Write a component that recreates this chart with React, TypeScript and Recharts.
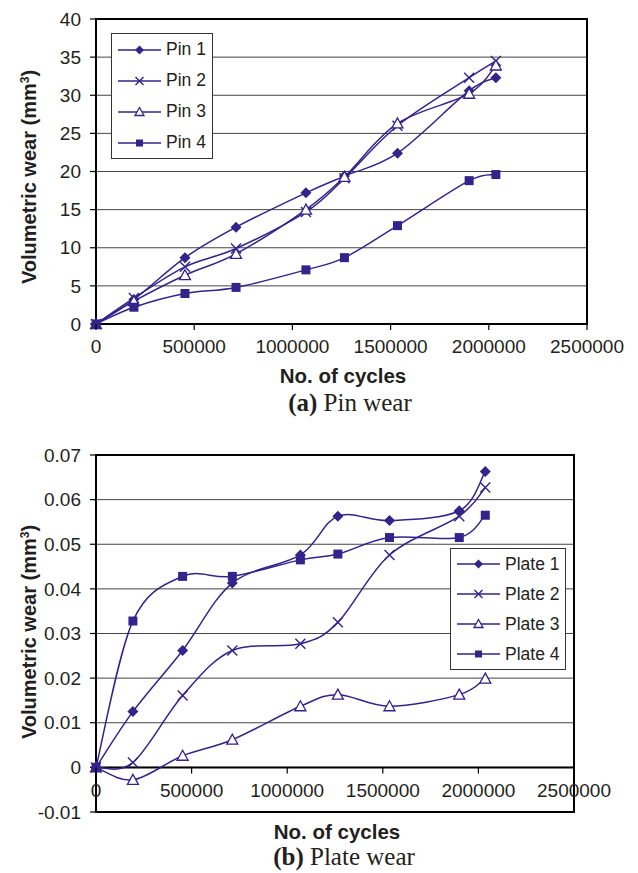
import React from 'react';
import { LineChart, Line, XAxis, YAxis, CartesianGrid, Legend, ReferenceLine, ReferenceArea } from 'recharts';

// number of cycles at each measurement
const cycles = [0, 193000, 453000, 713000, 1069000, 1265000, 1535000, 1900000, 2036000];

// (a) pin wear, mm3
const pin1 = [0, 3.2, 8.7, 12.7, 17.2, 19.4, 22.4, 30.6, 32.3];
const pin2 = [0, 3.4, 7.5, 9.9, 14.7, 19.1, 26.0, 32.3, 34.5];
const pin3 = [0, 3.0, 6.4, 9.2, 15.0, 19.3, 26.3, 30.2, 33.9];
const pin4 = [0, 2.2, 4.0, 4.8, 7.1, 8.7, 12.9, 18.8, 19.6];

// (b) plate wear, mm3
const plate1 = [0, 0.0125, 0.0262, 0.0413, 0.0476, 0.0563, 0.0553, 0.0575, 0.0663];
const plate2 = [0, 0.0011, 0.0161, 0.0262, 0.0277, 0.0325, 0.0476, 0.0563, 0.0627];
const plate3 = [0, -0.0028, 0.0026, 0.0062, 0.0137, 0.0163, 0.0137, 0.0163, 0.0199];
const plate4 = [0, 0.0328, 0.0428, 0.0428, 0.0465, 0.0478, 0.0515, 0.0515, 0.0565];

const pinNames = ['Pin 1', 'Pin 2', 'Pin 3', 'Pin 4'];
const plateNames = ['Plate 1', 'Plate 2', 'Plate 3', 'Plate 4'];
const markerShapes = ['diamond', 'cross', 'triangle', 'square'];

const xTicks = [0, 500000, 1000000, 1500000, 2000000, 2500000];
const pinTicks = [0, 5, 10, 15, 20, 25, 30, 35, 40];
const plateTicks = [-0.01, 0, 0.01, 0.02, 0.03, 0.04, 0.05, 0.06, 0.07];

const INK = '#33238a';
const TEXT = '#231f20';
const X_AXIS_H = 30;

// Excel-style smoothed line (Catmull-Rom as cubic bezier)
const excelCurve = (context: any) => {
  let pts: number[][] = [];
  return {
    areaStart() {},
    areaEnd() {},
    lineStart() {
      pts = [];
    },
    point(x: number, y: number) {
      pts.push([+x, +y]);
    },
    lineEnd() {
      const n = pts.length;
      if (!n) return;
      context.moveTo(pts[0][0], pts[0][1]);
      for (let i = 0; i < n - 1; i++) {
        const p0 = pts[Math.max(i - 1, 0)];
        const p1 = pts[i];
        const p2 = pts[i + 1];
        const p3 = pts[Math.min(i + 2, n - 1)];
        context.bezierCurveTo(
          p1[0] + (p2[0] - p0[0]) / 6,
          p1[1] + (p2[1] - p0[1]) / 6,
          p2[0] - (p3[0] - p1[0]) / 6,
          p2[1] - (p3[1] - p1[1]) / 6,
          p2[0],
          p2[1]
        );
      }
    },
  };
};

function Marker({ shape, cx, cy, r = 5.5 }: { shape: string; cx: number; cy: number; r?: number }) {
  if (shape === 'diamond') {
    return <path d={`M${cx},${cy - r}L${cx + r},${cy}L${cx},${cy + r}L${cx - r},${cy}Z`} fill={INK} />;
  }
  if (shape === 'cross') {
    const d = r - 0.5;
    return (
      <path
        d={`M${cx - d},${cy - d}L${cx + d},${cy + d}M${cx - d},${cy + d}L${cx + d},${cy - d}`}
        stroke={INK}
        strokeWidth={1.4}
        fill="none"
      />
    );
  }
  if (shape === 'triangle') {
    return (
      <path
        d={`M${cx},${cy - r}L${cx + r},${cy + r - 1}L${cx - r},${cy + r - 1}Z`}
        fill="#fff"
        stroke={INK}
        strokeWidth={1.3}
      />
    );
  }
  return <rect x={cx - r + 1} y={cy - r + 1} width={2 * r - 2} height={2 * r - 2} fill={INK} />;
}

function LegendBox({ payload, names, rowH }: any) {
  return (
    <div
      style={{
        background: '#fff',
        border: '1px solid #333',
        padding: '0 6px 0 6px',
        fontSize: 17.5,
        color: TEXT,
        fontFamily: '"Liberation Sans", Arial, sans-serif',
      }}
    >
      {(payload || []).map((entry: any) => {
        const k = names.indexOf(entry.value);
        return (
          <div key={entry.value} style={{ display: 'flex', alignItems: 'center', height: rowH }}>
            <svg width={44} height={14} style={{ marginRight: 4 }}>
              <line x1={0} y1={7} x2={43} y2={7} stroke={INK} strokeWidth={1.5} />
              <Marker shape={markerShapes[k]} cx={21.5} cy={7} r={4.5} />
            </svg>
            <span>{entry.value}</span>
          </div>
        );
      })}
    </div>
  );
}

interface WearChartProps {
  series: number[][];
  names: string[];
  yTicks: number[];
  yFormat: (v: number) => string;
  height: number;
  margin: { top: number; right: number; bottom: number; left: number };
  legendPos: { left: number; top: number };
  rowH: number;
}

function WearChart({ series, names, yTicks, yFormat, height, margin, legendPos, rowH }: WearChartProps) {
  const data = cycles.map((c, i) => {
    const row: any = { cycles: c };
    series.forEach((s, k) => {
      row['s' + k] = s[i];
    });
    return row;
  });
  const yMin = yTicks[0];
  const yMax = yTicks[yTicks.length - 1];
  const plotH = height - margin.top - margin.bottom - X_AXIS_H;
  // x axis sits on the zero line, which is above the plot bottom when yMin < 0
  const zeroShift = (plotH * (0 - yMin)) / (yMax - yMin);

  const XTick = ({ x, y, payload }: any) => {
    const y0 = y - zeroShift;
    return (
      <g>
        <line x1={x} y1={y0} x2={x} y2={y0 + 6} stroke="#000" strokeWidth={1.2} />
        <text x={x} y={y0 + 16} dy="0.71em" textAnchor="middle" fontSize={19} fill={TEXT}>
          {payload.value}
        </text>
      </g>
    );
  };

  return (
    <LineChart width={638} height={height} data={data} margin={margin}>
      <CartesianGrid horizontal vertical={false} stroke="#444" strokeWidth={1} />
      <XAxis
        dataKey="cycles"
        type="number"
        domain={[0, 2500000]}
        ticks={xTicks}
        interval={0}
        height={X_AXIS_H}
        axisLine={false}
        tickLine={false}
        tickSize={0}
        tickMargin={0}
        tick={(p: any) => <XTick {...p} />}
      />
      <YAxis
        type="number"
        domain={[yMin, yMax]}
        ticks={yTicks}
        interval={0}
        width={60}
        axisLine={false}
        tickLine={{ stroke: '#000', strokeWidth: 1.2 }}
        tickSize={6}
        tickMargin={9}
        tickFormatter={yFormat}
        tick={{ fontSize: 19, fill: TEXT }}
      />
      <ReferenceArea x1={0} x2={2500000} y1={yMin} y2={yMax} fill="none" stroke="#000" strokeWidth={2} />
      <ReferenceLine y={0} stroke="#000" strokeWidth={2} />
      {series.map((_, k) => (
        <Line
          key={k}
          dataKey={'s' + k}
          name={names[k]}
          type={excelCurve as any}
          stroke={INK}
          strokeWidth={1.5}
          isAnimationActive={false}
          dot={(p: any) => <Marker key={p.index} shape={markerShapes[k]} cx={p.cx} cy={p.cy} />}
          activeDot={false}
        />
      ))}
      <Legend
        layout="horizontal"
        verticalAlign="middle"
        align="center"
        wrapperStyle={{ left: legendPos.left, top: legendPos.top, width: 'auto', height: 'auto' }}
        content={(p: any) => <LegendBox payload={p.payload} names={names} rowH={rowH} />}
      />
    </LineChart>
  );
}

const yTitleStyle: React.CSSProperties = {
  position: 'absolute',
  left: 27,
  transform: 'translate(-50%, -50%) rotate(-90deg)',
  whiteSpace: 'nowrap',
  fontWeight: 'bold',
  fontSize: 20,
  color: TEXT,
  lineHeight: '22px',
};

const xTitleStyle: React.CSSProperties = {
  position: 'absolute',
  transform: 'translate(-50%, -50%)',
  whiteSpace: 'nowrap',
  fontWeight: 'bold',
  fontSize: 20.5,
  color: TEXT,
};

const captionStyle: React.CSSProperties = {
  position: 'absolute',
  transform: 'translate(-50%, -50%)',
  whiteSpace: 'nowrap',
  fontFamily: '"Liberation Serif", "Times New Roman", serif',
  fontSize: 25,
  color: TEXT,
};

export default function App() {
  return (
    <div
      style={{
        position: 'absolute',
        left: 0,
        top: 0,
        width: 638,
        height: 873,
        background: '#fff',
        fontFamily: '"Liberation Sans", Arial, sans-serif',
      }}
    >
      <div style={{ position: 'absolute', left: 0, top: 0 }}>
        <WearChart
          series={[pin1, pin2, pin3, pin4]}
          names={pinNames}
          yTicks={pinTicks}
          yFormat={(v) => String(v)}
          height={362}
          margin={{ top: 19, right: 51, bottom: 8, left: 36 }}
          legendPos={{ left: 111, top: 33 }}
          rowH={31}
        />
      </div>
      <div style={{ ...yTitleStyle, top: 177 }}>
        Volumetric wear (mm<sup style={{ fontSize: 12 }}>3</sup>)
      </div>
      <div style={{ ...xTitleStyle, left: 343, top: 376 }}>No. of cycles</div>
      <div style={{ ...captionStyle, left: 350, top: 403 }}>
        <b>(a)</b> Pin wear
      </div>

      <div style={{ position: 'absolute', left: 0, top: 436 }}>
        <WearChart
          series={[plate1, plate2, plate3, plate4]}
          names={plateNames}
          yTicks={plateTicks}
          yFormat={(v) => (v === 0 ? '0' : v.toFixed(2))}
          height={406}
          margin={{ top: 19, right: 64, bottom: 0, left: 36 }}
          legendPos={{ left: 450, top: 112 }}
          rowH={30}
        />
      </div>
      <div style={{ ...yTitleStyle, top: 632 }}>
        Volumetric wear (mm<sup style={{ fontSize: 12 }}>3</sup>)
      </div>
      <div style={{ ...xTitleStyle, left: 337, top: 832 }}>No. of cycles</div>
      <div style={{ ...captionStyle, left: 344, top: 857 }}>
        <b>(b)</b> Plate wear
      </div>
    </div>
  );
}
